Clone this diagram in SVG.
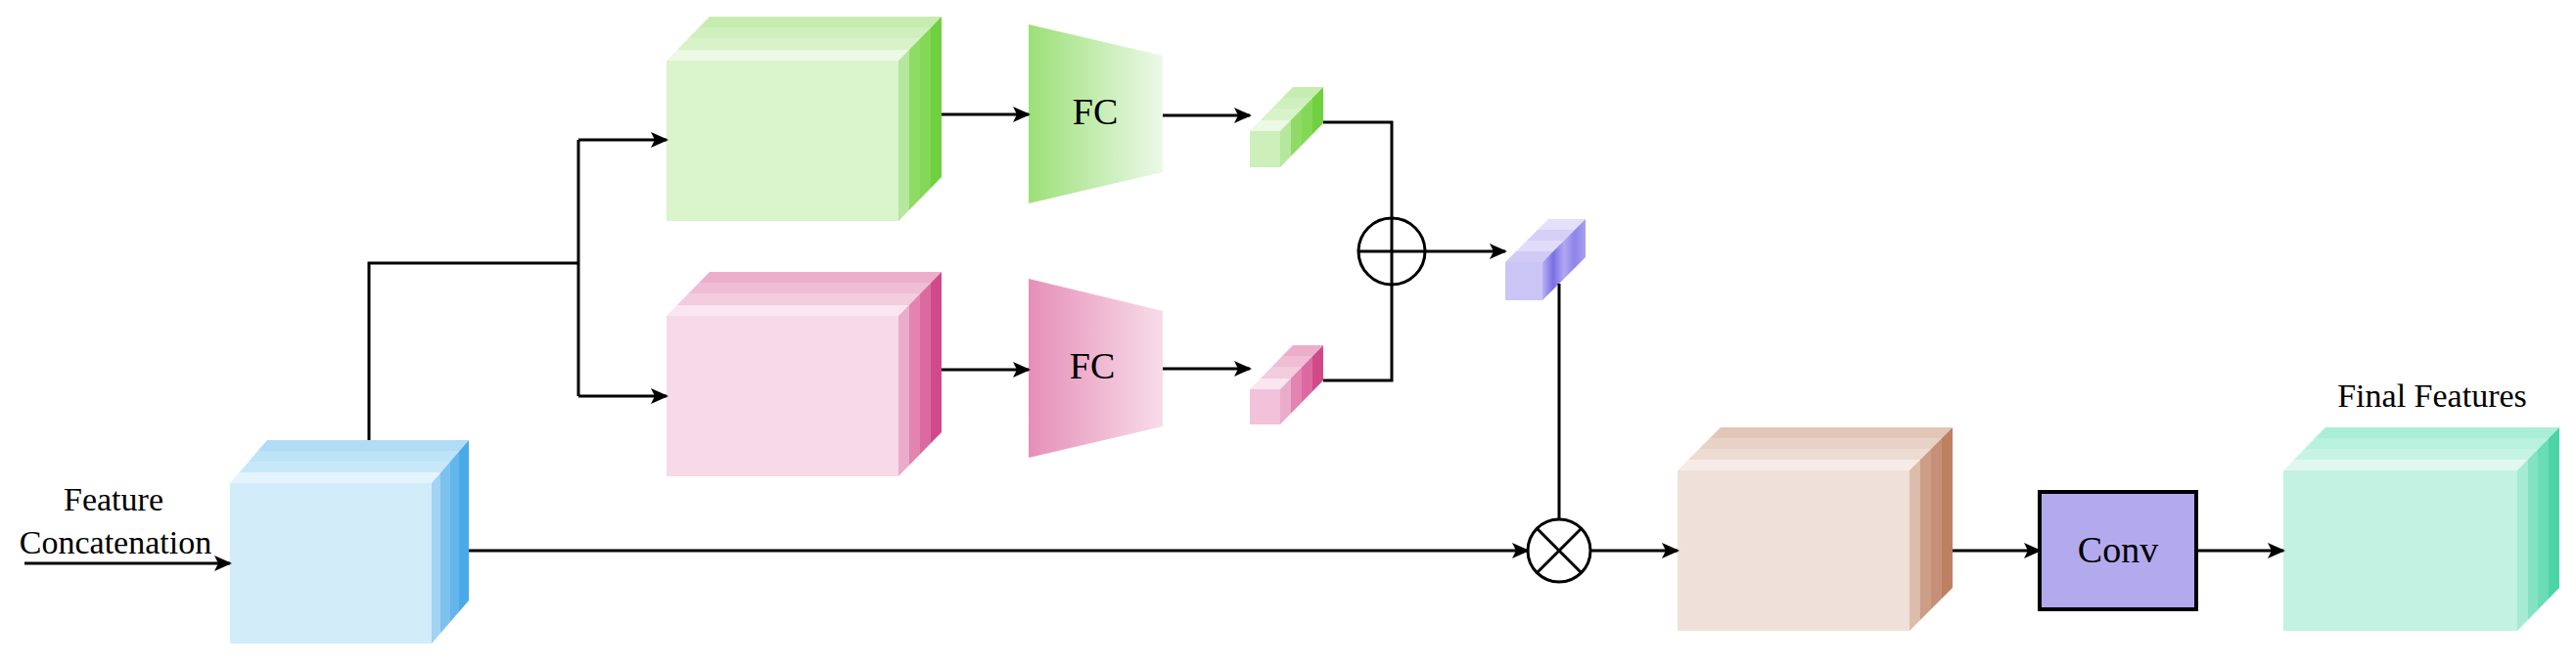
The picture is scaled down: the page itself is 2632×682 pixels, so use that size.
<svg xmlns="http://www.w3.org/2000/svg" width="2632" height="682" viewBox="0 0 2632 682">
<defs>
<marker id="ar" markerUnits="userSpaceOnUse" markerWidth="18" markerHeight="16" refX="16" refY="8" orient="auto"><path d="M0,0 L18,8 L0,16 L4,8 Z" fill="#000"/></marker>
<linearGradient id="bT" x1="0" y1="0" x2="0" y2="1"><stop offset="0" stop-color="#b0dcf5"/><stop offset=".25" stop-color="#b0dcf5"/><stop offset=".25" stop-color="#bde3f7"/><stop offset=".5" stop-color="#bde3f7"/><stop offset=".5" stop-color="#c8e8f8"/><stop offset=".75" stop-color="#c8e8f8"/><stop offset=".75" stop-color="#e4f4fc"/><stop offset="1" stop-color="#e4f4fc"/></linearGradient>
<linearGradient id="bR" x1="0" y1="0" x2="1" y2="0"><stop offset="0" stop-color="#a2d3f3"/><stop offset=".25" stop-color="#a2d3f3"/><stop offset=".25" stop-color="#7cc1ee"/><stop offset=".5" stop-color="#7cc1ee"/><stop offset=".5" stop-color="#62b6ec"/><stop offset=".75" stop-color="#62b6ec"/><stop offset=".75" stop-color="#4aaae8"/><stop offset="1" stop-color="#4aaae8"/></linearGradient>
<linearGradient id="gT" x1="0" y1="0" x2="0" y2="1"><stop offset="0" stop-color="#c5edb0"/><stop offset=".25" stop-color="#c5edb0"/><stop offset=".25" stop-color="#cff0bd"/><stop offset=".5" stop-color="#cff0bd"/><stop offset=".5" stop-color="#d8f3ca"/><stop offset=".75" stop-color="#d8f3ca"/><stop offset=".75" stop-color="#ecf9e5"/><stop offset="1" stop-color="#ecf9e5"/></linearGradient>
<linearGradient id="gR" x1="0" y1="0" x2="1" y2="0"><stop offset="0" stop-color="#b5e79c"/><stop offset=".25" stop-color="#b5e79c"/><stop offset=".25" stop-color="#8fdb66"/><stop offset=".5" stop-color="#8fdb66"/><stop offset=".5" stop-color="#83d858"/><stop offset=".75" stop-color="#83d858"/><stop offset=".75" stop-color="#6fd040"/><stop offset="1" stop-color="#6fd040"/></linearGradient>
<linearGradient id="pT" x1="0" y1="0" x2="0" y2="1"><stop offset="0" stop-color="#ecaecb"/><stop offset=".25" stop-color="#ecaecb"/><stop offset=".25" stop-color="#efbdd4"/><stop offset=".5" stop-color="#efbdd4"/><stop offset=".5" stop-color="#f3ccdd"/><stop offset=".75" stop-color="#f3ccdd"/><stop offset=".75" stop-color="#f9e6ee"/><stop offset="1" stop-color="#f9e6ee"/></linearGradient>
<linearGradient id="pR" x1="0" y1="0" x2="1" y2="0"><stop offset="0" stop-color="#eaaccb"/><stop offset=".25" stop-color="#eaaccb"/><stop offset=".25" stop-color="#e283b0"/><stop offset=".5" stop-color="#e283b0"/><stop offset=".5" stop-color="#dc6aa0"/><stop offset=".75" stop-color="#dc6aa0"/><stop offset=".75" stop-color="#d04a8a"/><stop offset="1" stop-color="#d04a8a"/></linearGradient>
<linearGradient id="vT" x1="0" y1="0" x2="0" y2="1"><stop offset="0" stop-color="#e4e0fb"/><stop offset=".25" stop-color="#e4e0fb"/><stop offset=".25" stop-color="#d6d0f7"/><stop offset=".5" stop-color="#d6d0f7"/><stop offset=".5" stop-color="#e0dcfa"/><stop offset=".75" stop-color="#e0dcfa"/><stop offset=".75" stop-color="#d0caf5"/><stop offset="1" stop-color="#d0caf5"/></linearGradient>
<linearGradient id="vR" x1="0" y1="0" x2="1" y2="0"><stop offset="0" stop-color="#b8b0f2"/><stop offset=".25" stop-color="#7a6ee6"/><stop offset=".5" stop-color="#b0a8f0"/><stop offset=".75" stop-color="#8e84ea"/><stop offset="1" stop-color="#a8a0ee"/></linearGradient>
<linearGradient id="tT" x1="0" y1="0" x2="0" y2="1"><stop offset="0" stop-color="#e2c6b8"/><stop offset=".25" stop-color="#e2c6b8"/><stop offset=".25" stop-color="#e8d2c6"/><stop offset=".5" stop-color="#e8d2c6"/><stop offset=".5" stop-color="#eddcd2"/><stop offset=".75" stop-color="#eddcd2"/><stop offset=".75" stop-color="#f6ebe6"/><stop offset="1" stop-color="#f6ebe6"/></linearGradient>
<linearGradient id="tR" x1="0" y1="0" x2="1" y2="0"><stop offset="0" stop-color="#dcbcaa"/><stop offset=".25" stop-color="#dcbcaa"/><stop offset=".25" stop-color="#cc9e86"/><stop offset=".5" stop-color="#cc9e86"/><stop offset=".5" stop-color="#c69078"/><stop offset=".75" stop-color="#c69078"/><stop offset=".75" stop-color="#bd8062"/><stop offset="1" stop-color="#bd8062"/></linearGradient>
<linearGradient id="cT" x1="0" y1="0" x2="0" y2="1"><stop offset="0" stop-color="#a9eed6"/><stop offset=".25" stop-color="#a9eed6"/><stop offset=".25" stop-color="#b8f1dd"/><stop offset=".5" stop-color="#b8f1dd"/><stop offset=".5" stop-color="#c6f3e4"/><stop offset=".75" stop-color="#c6f3e4"/><stop offset=".75" stop-color="#e0f8f0"/><stop offset="1" stop-color="#e0f8f0"/></linearGradient>
<linearGradient id="cR" x1="0" y1="0" x2="1" y2="0"><stop offset="0" stop-color="#a5ead2"/><stop offset=".25" stop-color="#a5ead2"/><stop offset=".25" stop-color="#82e2c2"/><stop offset=".5" stop-color="#82e2c2"/><stop offset=".5" stop-color="#6adcb6"/><stop offset=".75" stop-color="#6adcb6"/><stop offset=".75" stop-color="#4cd4a6"/><stop offset="1" stop-color="#4cd4a6"/></linearGradient>
<linearGradient id="fcG" x1="0" y1="0" x2="1" y2="0"><stop offset="0" stop-color="#9ce078"/><stop offset="1" stop-color="#ecf9e8"/></linearGradient>
<linearGradient id="fcP" x1="0" y1="0" x2="1" y2="0"><stop offset="0" stop-color="#e68fb8"/><stop offset="1" stop-color="#f8dce9"/></linearGradient>
</defs>
<style>
.ln{fill:none;stroke:#000;stroke-width:3}
.ar{fill:none;stroke:#000;stroke-width:3;marker-end:url(#ar)}
.op{fill:#fff;stroke:#000;stroke-width:3}
text{font-family:"Liberation Serif","Times New Roman",serif;fill:#000}
</style>
<g id="input-label"><text x="116" y="522" font-size="34" text-anchor="middle">Feature</text><text x="118" y="566" font-size="34" text-anchor="middle">Concatenation</text></g>
<g id="blue">
<rect x="235" y="494" width="206" height="164" fill="#d2ecfa"/>
<polygon points="273,450 479,450 441,494 235,494" fill="url(#bT)"/>
<polygon points="441,494 479,450 479,614 441,658" fill="url(#bR)"/>
</g>
<g id="green">
<rect x="681" y="62" width="237" height="164" fill="#daf4cc"/>
<polygon points="725,17 962,17 918,62 681,62" fill="url(#gT)"/>
<polygon points="918,62 962,17 962,181 918,226" fill="url(#gR)"/>
</g>
<g id="pink">
<rect x="681" y="323" width="237" height="164" fill="#f7d9e7"/>
<polygon points="725,278 962,278 918,323 681,323" fill="url(#pT)"/>
<polygon points="918,323 962,278 962,442 918,487" fill="url(#pR)"/>
</g>
<g id="fc-green"><polygon points="1051,25 1188,57 1188,176 1051,208" fill="url(#fcG)"/><text x="1119" y="127" font-size="38" text-anchor="middle">FC</text></g>
<g id="fc-pink"><polygon points="1051,285 1188,318 1188,436 1051,468" fill="url(#fcP)"/><text x="1116" y="387" font-size="38" text-anchor="middle">FC</text></g>
<g id="small-green">
<rect x="1277" y="134" width="31" height="37" fill="#cdf0bb"/>
<polygon points="1321,89 1352,89 1308,134 1277,134" fill="url(#gT)"/>
<polygon points="1308,134 1352,89 1352,126 1308,171" fill="url(#gR)"/>
</g>
<g id="small-pink">
<rect x="1277" y="398" width="31" height="36" fill="#f2c2da"/>
<polygon points="1321,353 1352,353 1308,398 1277,398" fill="url(#pT)"/>
<polygon points="1308,398 1352,353 1352,389 1308,434" fill="url(#pR)"/>
</g>
<g id="small-purple">
<rect x="1538" y="268" width="38" height="39" fill="#cbc5f5"/>
<polygon points="1582,224 1620,224 1576,268 1538,268" fill="url(#vT)"/>
<polygon points="1576,268 1620,224 1620,263 1576,307" fill="url(#vR)"/>
</g>
<g id="tan">
<rect x="1714" y="481" width="237" height="164" fill="#efe1d9"/>
<polygon points="1758,437 1995,437 1951,481 1714,481" fill="url(#tT)"/>
<polygon points="1951,481 1995,437 1995,601 1951,645" fill="url(#tR)"/>
</g>
<g id="conv"><rect x="2084" y="503" width="160" height="120" fill="#b3aaee" stroke="#000" stroke-width="4"/><text x="2164" y="575" font-size="38" text-anchor="middle">Conv</text></g>
<g id="teal">
<rect x="2333" y="481" width="239" height="164" fill="#c3f1e2"/>
<polygon points="2376,437 2615,437 2572,481 2333,481" fill="url(#cT)"/>
<polygon points="2572,481 2615,437 2615,601 2572,645" fill="url(#cR)"/>
<text x="2485" y="416" font-size="34" text-anchor="middle">Final Features</text>
</g>
<g id="add"><circle cx="1422" cy="257" r="34" class="op"/><path class="ln" d="M1388,257H1456M1422,223V291"/></g>
<g id="mul"><circle cx="1593" cy="563" r="32" class="op"/><path class="ln" d="M1570,540L1616,586M1616,540L1570,586"/></g>
<g id="connectors">
<path class="ar" d="M25,576H235"/>
<path class="ln" d="M377,450V269H591"/>
<path class="ln" d="M591,143V405"/>
<path class="ar" d="M591,143H681"/>
<path class="ar" d="M591,405H681"/>
<path class="ar" d="M962,117H1051"/>
<path class="ar" d="M1188,118H1277"/>
<path class="ar" d="M962,378H1051"/>
<path class="ar" d="M1188,377H1277"/>
<path class="ln" d="M1352,125H1422V223"/>
<path class="ln" d="M1352,389H1422V291"/>
<path class="ar" d="M1456,257H1538"/>
<path class="ln" d="M1593,290V531"/>
<path class="ar" d="M479,563H1561"/>
<path class="ar" d="M1625,563H1714"/>
<path class="ar" d="M1995,563H2084"/>
<path class="ar" d="M2244,563H2333"/>
</g>
</svg>
